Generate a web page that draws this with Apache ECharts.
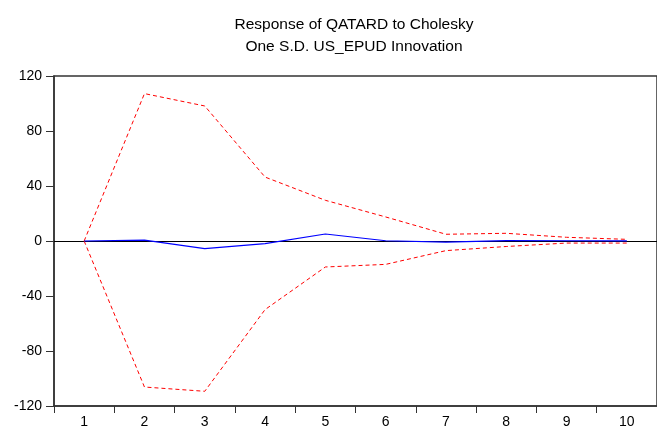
<!DOCTYPE html>
<html>
<head>
<meta charset="utf-8">
<script src="https://cdn.jsdelivr.net/npm/echarts@6/dist/echarts.min.js"></script>
<style>html,body{margin:0;padding:0;background:#fff;}#c{width:657px;height:429px;}</style>
</head>
<body>
<div id="c"></div>
<script>
var categories = ['1','2','3','4','5','6','7','8','9','10'];
var response = [0, 0.7, -5.5, -1.9, 5.1, 0.2, -0.8, 0.3, 0.2, 0.1];
var upperBand = [0, 107.2, 98.2, 46.5, 29.6, 17.5, 4.9, 5.6, 2.7, 1.2];
var lowerBand = [0, -106.2, -109.3, -49.9, -18.9, -17.0, -7.0, -4.0, -1.5, -1.5];
var yTicks = {min: -120, max: 120, interval: 40};

var chart = echarts.init(document.getElementById('c'), null, {renderer: 'canvas'});
chart.setOption({
  animation: false,
  backgroundColor: '#ffffff',
  title: {
    text: 'Response of QATARD to Cholesky\nOne S.D. US_EPUD Innovation',
    left: 349, top: 9, textAlign: 'center',
    textStyle: {fontFamily: 'Liberation Sans', fontSize: 15.5, fontWeight: 'normal', color: '#000', lineHeight: 22}
  },
  grid: {left: 54, right: -1, top: 76, bottom: 23, show: true, borderColor: '#333', borderWidth: 1.5, backgroundColor: 'transparent'},
  xAxis: {
    type: 'category', data: categories, boundaryGap: true,
    axisLine: {onZero: false, lineStyle: {color: '#333', width: 1.5}},
    axisTick: {show: true, inside: false, length: 7, alignWithLabel: false, lineStyle: {color: '#333'}},
    axisLabel: {fontFamily: 'Liberation Sans', fontSize: 14, color: '#000', margin: 9},
    splitLine: {show: false}
  },
  yAxis: {
    type: 'value', min: yTicks.min, max: yTicks.max, interval: yTicks.interval,
    axisLine: {show: true, lineStyle: {color: '#333', width: 1.5}},
    axisTick: {show: true, inside: false, length: 8, lineStyle: {color: '#333'}},
    axisLabel: {fontFamily: 'Liberation Sans', fontSize: 14, color: '#000', margin: 12},
    splitLine: {show: false}
  },
  series: [
    {
      type: 'line', data: upperBand, symbol: 'none', z: 3,
      lineStyle: {color: '#ff0000', width: 1, type: [4, 3]}
    },
    {
      type: 'line', data: lowerBand, symbol: 'none', z: 3,
      lineStyle: {color: '#ff0000', width: 1, type: [4, 3]}
    },
    {
      type: 'line', data: response, symbol: 'none', z: 4,
      lineStyle: {color: '#0000ff', width: 1.2},
      markLine: {
        silent: true, symbol: 'none', label: {show: false}, z: 2,
        lineStyle: {color: '#000', width: 1.2, type: 'solid'},
        data: [{yAxis: 0}]
      }
    }
  ]
});
</script>
</body>
</html>
